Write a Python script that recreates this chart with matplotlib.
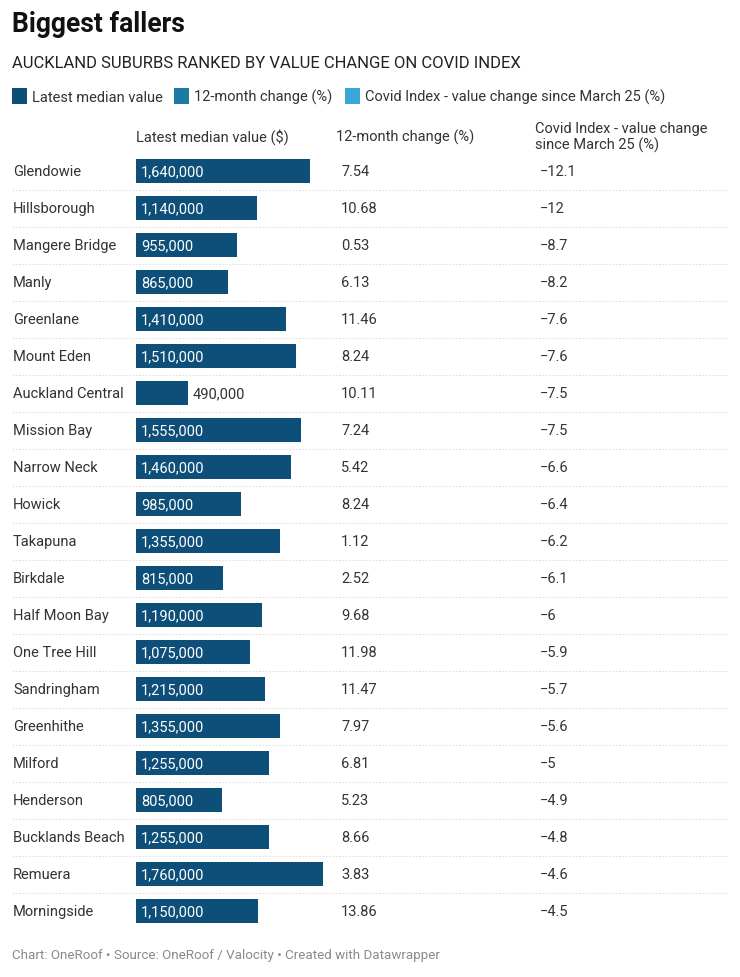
import matplotlib
matplotlib.use("Agg")
import matplotlib.pyplot as plt
from matplotlib import transforms

suburbs = ["Glendowie", "Hillsborough", "Mangere Bridge", "Manly", "Greenlane",
           "Mount Eden", "Auckland Central", "Mission Bay", "Narrow Neck", "Howick",
           "Takapuna", "Birkdale", "Half Moon Bay", "One Tree Hill", "Sandringham",
           "Greenhithe", "Milford", "Henderson", "Bucklands Beach", "Remuera",
           "Morningside"]
median_value = [1640000, 1140000, 955000, 865000, 1410000, 1510000, 490000,
                1555000, 1460000, 985000, 1355000, 815000, 1190000, 1075000,
                1215000, 1355000, 1255000, 805000, 1255000, 1760000, 1150000]
change_12m = ["7.54", "10.68", "0.53", "6.13", "11.46", "8.24", "10.11", "7.24",
              "5.42", "8.24", "1.12", "2.52", "9.68", "11.98", "11.47", "7.97",
              "6.81", "5.23", "8.66", "3.83", "13.86"]
covid_index = ["\u221212.1", "\u221212", "\u22128.7", "\u22128.2", "\u22127.6", "\u22127.6",
               "\u22127.5", "\u22127.5", "\u22126.6", "\u22126.4", "\u22126.2", "\u22126.1",
               "\u22126", "\u22125.9", "\u22125.7", "\u22125.6", "\u22125", "\u22124.9",
               "\u22124.8", "\u22124.6", "\u22124.5"]
legend_labels = ["Latest median value", "12-month change (%)",
                 "Covid Index - value change since March 25 (%)"]
col_headers = ["Latest median value ($)", "12-month change (%)",
               "Covid Index - value change\nsince March 25 (%)"]

plt.rcParams['font.family'] = ['Roboto', 'DejaVu Sans']

W, H = 740, 978
fig = plt.figure(figsize=(W / 100, H / 100), dpi=100)

# overlay axes in pixel coordinates
ax = fig.add_axes([0, 0, 1, 1])
ax.set_xlim(0, W)
ax.set_ylim(H, 0)
ax.axis("off")

TXT = "#333333"
BAR = "#0e4f79"
LEG = ["#0e4f79", "#1a7ba6", "#3aa7d6"]

ROW0, ROWH = 172, 37
n = len(suburbs)
FS = 14.6

def px(v):
    return v * 72 / 100  # px -> pt

ax.text(12, 24, "Biggest fallers", fontsize=px(26.5), fontweight="bold",
        color="#111111", va="center", ha="left")
ax.text(12, 63.5, "AUCKLAND SUBURBS RANKED BY VALUE CHANGE ON COVID INDEX",
        fontsize=px(16.6), color="#222222", va="center", ha="left")

# legend
leg_x = [12, 174, 345]
for x0, c, lab in zip(leg_x, LEG, legend_labels):
    ax.add_patch(plt.Rectangle((x0, 89), 15, 16, color=c, lw=0))
    ax.text(x0 + 20, 97.5, lab, fontsize=px(FS), color=TXT, va="center", ha="left")

# column headers
ax.text(136, 137.5, col_headers[0], fontsize=px(FS), color=TXT, va="center", ha="left")
ax.text(336, 137.5, col_headers[1], fontsize=px(FS), color=TXT, va="center", ha="left")
ax.text(535, 137.5, col_headers[2], fontsize=px(FS), color=TXT, va="center", ha="left",
        linespacing=1.1)

# rows text and separators
for i in range(n):
    y = ROW0 + ROWH * i
    ax.text(13, y, suburbs[i], fontsize=px(FS), color=TXT, va="center", ha="left")
    ax.text(341, y, change_12m[i], fontsize=px(FS), color=TXT, va="center", ha="left")
    ax.text(540, y, covid_index[i], fontsize=px(FS), color=TXT, va="center", ha="left")
    if i < n - 1:
        ax.plot([12, 728], [y + ROWH / 2, y + ROWH / 2], color="#e0e0e0", lw=0.8,
                ls=(0, (1.5, 1.5)))

# bar axes
bar_left, bar_w = 136, 187
top = ROW0 - ROWH / 2
bottom = ROW0 + ROWH * (n - 1) + ROWH / 2
axb = fig.add_axes([bar_left / W, 1 - bottom / H, bar_w / W, (bottom - top) / H])
axb.set_xlim(0, max(median_value))
axb.set_ylim(n - 0.5, -0.5)
axb.axis("off")
axb.patch.set_alpha(0)
axb.barh(range(n), median_value, height=24 / ROWH, color=BAR, lw=0)

off_in = transforms.offset_copy(axb.transData, fig=fig, x=5 * 0.72, y=0, units="points")
for i, v in enumerate(median_value):
    lab = f"{v:,}"
    if v > 700000:
        axb.text(0, i, lab, transform=off_in, fontsize=px(FS), color="white",
                 va="center", ha="left")
    else:
        axb.text(v, i, lab, transform=off_in, fontsize=px(FS), color=TXT,
                 va="center", ha="left")

ax.text(12, 955, "Chart: OneRoof \u2022 Source: OneRoof / Valocity \u2022 Created with Datawrapper",
        fontsize=px(13.4), color="#8a8a8a", va="center", ha="left")

fig.savefig("out.png", dpi=100)
